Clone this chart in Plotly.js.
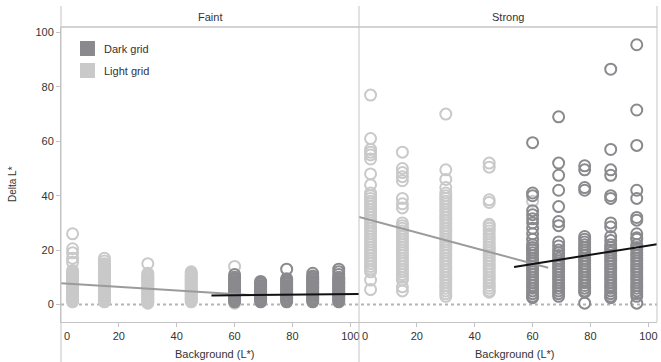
<!DOCTYPE html>
<html>
<head>
<meta charset="utf-8">
<script src="https://cdn.plot.ly/plotly-3.0.1.min.js"></script>
<style>html,body{margin:0;padding:0;background:#fff;}#chart{width:661px;height:362px;}</style>
</head>
<body>
<div id="chart"></div>
<script>
// Background L* of each column
const bgLight = [4, 15, 30, 45, 60];
const bgDark = [60, 69, 78, 87, 96];

// Faint condition, Light grid (Delta L* per background column)
const faintLight = [
  [26, 20.5, 19, 17, 15.5, 12.5, 12, 11.5, 11, 10.5, 10, 9.5, 9, 8.5, 8, 7.5, 7, 6.5, 6, 5.5, 5, 4.5, 4, 3.5, 3, 2.5, 2, 1.5, 1],
  [17, 16, 15, 14.5, 14, 13.5, 13, 12.5, 12, 11.5, 11, 10.5, 10, 9.5, 9, 8.5, 8, 7.5, 7, 6.5, 6, 5.5, 5, 4.5, 4, 3.5, 3, 2.5, 2, 1.5, 1],
  [15, 11.5, 11, 10.5, 10, 9.5, 9, 8.5, 8, 7.5, 7, 6.5, 6, 5.5, 5, 4.5, 4, 3.5, 3, 2.5, 2, 1.5, 1, 0.5],
  [12, 11.5, 11, 10.5, 10, 9.5, 9, 8.5, 8, 7.5, 7, 6.5, 6, 5.5, 5, 4.5, 4, 3.5, 3, 2.5, 2, 1.5, 1],
  [14, 10, 1, 0.5]
];
// Faint condition, Dark grid
const faintDark = [
  [11, 10, 9.5, 9, 8.5, 8, 7.5, 7, 6.5, 6, 5.5, 5, 4.5, 4, 3.5, 3, 2.5, 2, 1.5, 1],
  [8.5, 8, 7.5, 7, 6.5, 6, 5.5, 5, 4.5, 4, 3.5, 3, 2.5, 2, 1.5, 1],
  [13, 9.5, 9, 8.5, 8, 7.5, 7, 6.5, 6, 5.5, 5, 4.5, 4, 3.5, 3, 2.5, 2, 1.5, 1],
  [11.5, 10.5, 10, 9.5, 9, 8.5, 8, 7.5, 7, 6.5, 6, 5.5, 5, 4.5, 4, 3.5, 3, 2.5, 2, 1.5, 1],
  [13, 12, 11, 10, 9.5, 9, 8.5, 8, 7.5, 7, 6.5, 6, 5.5, 5, 4.5, 4, 3.5, 3, 2.5, 2, 1.5, 1]
];
// Strong condition, Light grid
const strongLight = [
  [77, 61, 57, 56, 55, 53.5, 48, 44, 41, 40, 39, 38, 37, 36, 35, 34, 33, 32, 31, 30, 29, 28, 27, 26, 25, 24, 23, 22, 21, 20, 19, 18, 17, 16, 15, 14, 13, 12, 9, 5.5],
  [56, 50, 48.5, 47, 45.5, 39, 37, 35.5, 30, 29, 28, 27, 26, 25, 24, 23, 22, 21, 20, 19, 18, 17, 16, 15, 14, 13, 12, 11, 10, 9, 6.5, 5],
  [70, 49.5, 46, 43, 41, 40, 39, 38, 37, 36, 35, 34, 33, 32, 31, 30, 29, 28, 27, 26, 25, 24, 23, 22, 21, 20, 19, 18, 17, 16, 15, 14, 13, 12, 11, 10, 9, 8, 7, 6, 5, 4, 3],
  [52, 50.5, 38.5, 37.5, 29.5, 29, 28, 27, 26, 25, 24, 23, 22, 21, 20, 19, 18, 17, 16, 15, 14, 13, 12, 11, 10, 9, 8, 7, 6, 5, 4.5],
  [38, 24, 22, 20]
];
// Strong condition, Dark grid
const strongDark = [
  [59.5, 41, 40, 34.5, 33, 31.5, 30, 28, 26, 24, 22, 21, 20, 19, 18, 17, 16, 15, 14, 13, 12, 11, 10, 9, 8, 7, 6, 5, 4, 3, 2.5],
  [69, 52, 47.5, 42, 36, 30.5, 29, 23, 21.5, 20, 19, 18, 17, 16, 15, 14, 13, 12, 11, 10, 9, 8, 7, 6, 5, 4, 3],
  [51, 49.5, 43, 42, 25, 24, 23, 22, 21, 20, 19, 18, 17, 16, 15, 14, 13, 12, 11, 10, 9, 8, 7, 6, 5, 4.5, 0.5],
  [86.5, 57, 49.5, 47.5, 40, 39, 30, 28.5, 25, 23.5, 22, 21, 20, 19, 18, 17, 16, 15, 14, 13, 12, 11, 10, 9, 8, 7, 6, 5, 4, 3, 2.5],
  [95.5, 71.5, 58.5, 42, 39, 32, 31, 26, 24.5, 24, 22, 21, 20, 19, 18, 17, 16, 15, 14, 13, 12, 11, 10, 9, 8, 7, 6, 5, 4, 3, 0.5]
];

// Fit lines (endpoints in data units)
const fitFaintLightX = [0, 65], fitFaintLightY = [7.8, 3.5];
const fitFaintDarkX = [52, 103], fitFaintDarkY = [3.3, 3.9];
const fitStrongLightX = [0, 65.4], fitStrongLightY = [32.2, 13.5];
const fitStrongDarkX = [53.6, 103], fitStrongDarkY = [13.8, 22.2];

const panels = ['Faint', 'Strong'];
const legendNames = ['Dark grid', 'Light grid'];
const xTicks = [20, 40, 60, 80, 100];
const yTicks = [0, 20, 40, 60, 80, 100];

const DARK = '#8a8a8e', LIGHT = '#c9c9c9', AX = '#c4c4c4', TXT = '#333333';
const FONT = 'Liberation Sans, Arial, sans-serif';

function flat(xs, groups) {
  const x = [], y = [];
  groups.forEach((g, i) => g.forEach(v => { x.push(xs[i]); y.push(v); }));
  return {x, y};
}
function pts(xs, groups, color, xa) {
  const d = flat(xs, groups);
  return {type: 'scatter', mode: 'markers', x: d.x, y: d.y, xaxis: xa, yaxis: 'y',
    marker: {symbol: 'circle-open', size: 11, color: color, line: {width: 2, color: color}},
    showlegend: false, hoverinfo: 'skip'};
}
function fit(x, y, color, xa) {
  return {type: 'scatter', mode: 'lines', x: x, y: y, xaxis: xa, yaxis: 'y',
    line: {color: color, width: 2}, showlegend: false, hoverinfo: 'skip'};
}

const data = [
  pts(bgLight, faintLight, LIGHT, 'x'),
  pts(bgDark, faintDark, DARK, 'x'),
  pts(bgLight, strongLight, LIGHT, 'x2'),
  pts(bgDark, strongDark, DARK, 'x2'),
  fit(fitFaintLightX, fitFaintLightY, '#9b9b9b', 'x'),
  fit(fitFaintDarkX, fitFaintDarkY, '#111111', 'x'),
  fit(fitStrongLightX, fitStrongLightY, '#9b9b9b', 'x2'),
  fit(fitStrongDarkX, fitStrongDarkY, '#111111', 'x2')
];

const xBase = {range: [0, 103], tickvals: xTicks, ticks: 'outside', ticklen: 4, tickcolor: AX,
  showgrid: false, zeroline: false, showline: true, linecolor: AX, linewidth: 1,
  tickfont: {family: FONT, size: 11, color: TXT}, anchor: 'y', fixedrange: true};

const bottomPaper = -40 / 295, topPaper = 1 + 21 / 295;

const layout = {
  width: 661, height: 362,
  margin: {l: 61, r: 4, t: 27, b: 40},
  paper_bgcolor: '#ffffff', plot_bgcolor: '#ffffff',
  font: {family: FONT, size: 11, color: TXT},
  showlegend: false,
  xaxis: Object.assign({}, xBase, {domain: [0, 0.5]}),
  xaxis2: Object.assign({}, xBase, {domain: [0.5, 1]}),
  yaxis: {range: [-6.43, 102.02], tickvals: yTicks, ticks: 'outside', ticklen: 4, tickcolor: AX,
    showgrid: false, zeroline: false, showline: true, linecolor: AX, linewidth: 1,
    tickfont: {family: FONT, size: 11, color: TXT}, fixedrange: true},
  shapes: [
    {type: 'line', xref: 'paper', yref: 'paper', x0: 0, x1: 0, y0: bottomPaper, y1: topPaper, line: {color: AX, width: 1}},
    {type: 'line', xref: 'paper', yref: 'paper', x0: 0.5, x1: 0.5, y0: bottomPaper, y1: topPaper, line: {color: AX, width: 1}},
    {type: 'line', xref: 'paper', yref: 'paper', x0: 1, x1: 1, y0: 0, y1: topPaper, line: {color: AX, width: 1}},
    {type: 'line', xref: 'paper', yref: 'paper', x0: 0, x1: 1, y0: 1, y1: 1, line: {color: AX, width: 1.5}},
    {type: 'line', xref: 'paper', yref: 'y', x0: 0, x1: 1, y0: 0, y1: 0, layer: 'below', line: {color: '#b4b4b4', width: 2, dash: 'dot'}},
    {type: 'rect', xref: 'paper', yref: 'paper', x0: 0.0319, x1: 0.0570, y0: 0.9017, y1: 0.9525, fillcolor: DARK, line: {width: 0}},
    {type: 'rect', xref: 'paper', yref: 'paper', x0: 0.0319, x1: 0.0570, y0: 0.8271, y1: 0.8780, fillcolor: LIGHT, line: {width: 0}}
  ],
  annotations: [
    {text: panels[0], xref: 'paper', yref: 'paper', x: 0.25, y: 1 + 10.5 / 295, xanchor: 'center', yanchor: 'middle', showarrow: false, font: {family: FONT, size: 11, color: TXT}},
    {text: panels[1], xref: 'paper', yref: 'paper', x: 0.75, y: 1 + 10.5 / 295, xanchor: 'center', yanchor: 'middle', showarrow: false, font: {family: FONT, size: 11, color: TXT}},
    {text: legendNames[0], xref: 'paper', yref: 'paper', x: 0.0688, y: 0.9254, xanchor: 'left', yanchor: 'middle', showarrow: false, font: {family: FONT, size: 11, color: TXT}},
    {text: legendNames[1], xref: 'paper', yref: 'paper', x: 0.0688, y: 0.8508, xanchor: 'left', yanchor: 'middle', showarrow: false, font: {family: FONT, size: 11, color: TXT}},
    {text: '0', xref: 'x', yref: 'paper', x: 0, y: 0, xanchor: 'left', yanchor: 'top', xshift: 1, yshift: -6, showarrow: false, font: {family: FONT, size: 11, color: TXT}},
    {text: '0', xref: 'x2', yref: 'paper', x: 0, y: 0, xanchor: 'left', yanchor: 'top', xshift: 1, yshift: -6, showarrow: false, font: {family: FONT, size: 11, color: TXT}},
    {text: 'Background (L*)', xref: 'paper', yref: 'paper', x: (215.5 - 61) / 596, y: -32 / 295, xanchor: 'center', yanchor: 'middle', showarrow: false, font: {family: FONT, size: 11, color: TXT}},
    {text: 'Background (L*)', xref: 'paper', yref: 'paper', x: (514.5 - 61) / 596, y: -32 / 295, xanchor: 'center', yanchor: 'middle', showarrow: false, font: {family: FONT, size: 11, color: TXT}},
    {text: 'Delta L*', xref: 'paper', yref: 'paper', x: (12 - 61) / 596, y: (322 - 184) / 295, xanchor: 'center', yanchor: 'middle', textangle: -90, showarrow: false, font: {family: FONT, size: 10, color: TXT}}
  ]
};

Plotly.newPlot('chart', data, layout, {displayModeBar: false, staticPlot: true});
</script>
</body>
</html>
